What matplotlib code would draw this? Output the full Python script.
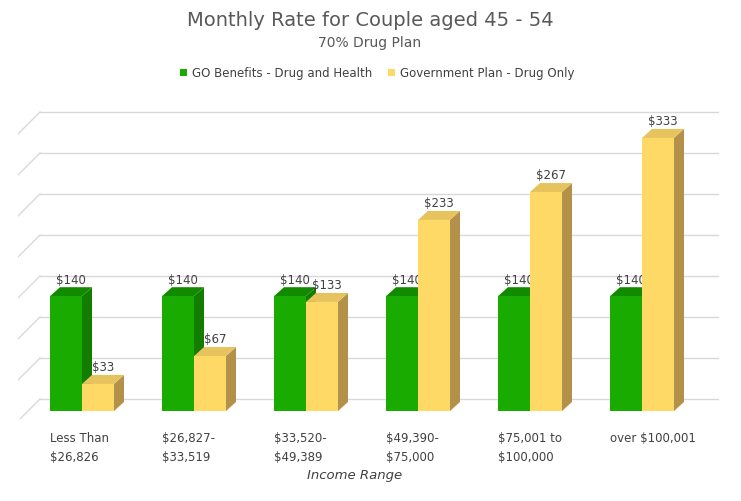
import matplotlib
matplotlib.use('Agg')
import matplotlib.pyplot as plt
from matplotlib.patches import Polygon, Rectangle

# ── DATA ──
categories = ['Less Than\n$26,826', '$26,827-\n$33,519', '$33,520-\n$49,389',
              '$49,390-\n$75,000', '$75,001 to\n$100,000', 'over $100,001']
go_benefits = [140, 140, 140, 140, 140, 140]
gov_plan = [33, 67, 133, 233, 267, 333]
series_names = ['GO Benefits - Drug and Health', 'Government Plan - Drug Only']

GREEN = ('#1aab00', '#137d00', '#118a00')   # front, side, top
YELLOW = ('#ffd966', '#b3914a', '#e6c35c')
TXT = '#404040'

W, H = 741, 502
fig = plt.figure(figsize=(W / 100, H / 100), dpi=100)
# axes in pixel box: x 18..720, y 100..420
ax = fig.add_axes([18 / W, 1 - 420 / H, 702 / W, 320 / H])
PXX, PXY = 112.0, 0.82          # px per category, px per $
ax.set_xlim((18 - 82) / PXX, (720 - 82) / PXX)
ax.set_ylim(-8 / PXY, 312 / PXY)
ax.axis('off')

# gridlines (back wall + slanted left edge)
gdx, gdy = 22 / PXX, 12 / PXY
for v in range(0, 351, 50):
    yb = v + gdy
    ax.plot([(40 - 82) / PXX, (718 - 82) / PXX], [yb, yb], color='#d9d9d9', lw=1, zorder=1)
    ax.plot([(40 - 82) / PXX - gdx, (40 - 82) / PXX], [yb - 22 / PXY, yb], color='#d9d9d9', lw=1, zorder=1)

bw = 32 / PXX
ddx, ddy = 10 / PXX, 9 / PXY


def bar3d(x0, h, cols, z):
    ax.add_patch(Polygon([(x0 + bw, 0), (x0 + bw + ddx, ddy), (x0 + bw + ddx, h + ddy), (x0 + bw, h)],
                         closed=True, fc=cols[1], ec='none', zorder=z))
    ax.add_patch(Polygon([(x0, h), (x0 + ddx, h + ddy), (x0 + bw + ddx, h + ddy), (x0 + bw, h)],
                         closed=True, fc=cols[2], ec='none', zorder=z))
    ax.add_patch(Rectangle((x0, 0), bw, h, fc=cols[0], ec='none', zorder=z))
    ax.text(x0 + bw / 2 + ddx / 2, h + ddy + 2, f'${h}', ha='center', va='bottom',
            fontsize=8.5, color=TXT, zorder=10)


for i, (g, y) in enumerate(zip(go_benefits, gov_plan)):
    bar3d(i - bw, g, GREEN, 3 + 2 * i)
    bar3d(i, y, YELLOW, 4 + 2 * i)
    ax.text(i - bw, -20 / PXY, categories[i], ha='left', va='top', fontsize=8.5,
            color=TXT, linespacing=1.6)

fig.text(370 / W, 1 - 20 / H, 'Monthly Rate for Couple aged 45 - 54', ha='center', va='center',
         fontsize=14, color='#595959')
fig.text(370 / W, 1 - 43 / H, '70% Drug Plan', ha='center', va='center', fontsize=10, color='#595959')
fig.text(355 / W, 1 - 475 / H, 'Income Range', ha='center', va='center', fontsize=9.5,
         style='italic', color=TXT)

# legend
for lx, name, c in [(180, series_names[0], GREEN[0]), (388, series_names[1], YELLOW[0])]:
    fig.patches.append(Rectangle((lx / W, 1 - 77 / H), 7 / W, 7 / H, fc=c, ec='none',
                                 transform=fig.transFigure, figure=fig))
    fig.text((lx + 12) / W, 1 - 73 / H, name, ha='left', va='center', fontsize=8.5, color=TXT)

fig.savefig('out.png', dpi=100, facecolor='white')
